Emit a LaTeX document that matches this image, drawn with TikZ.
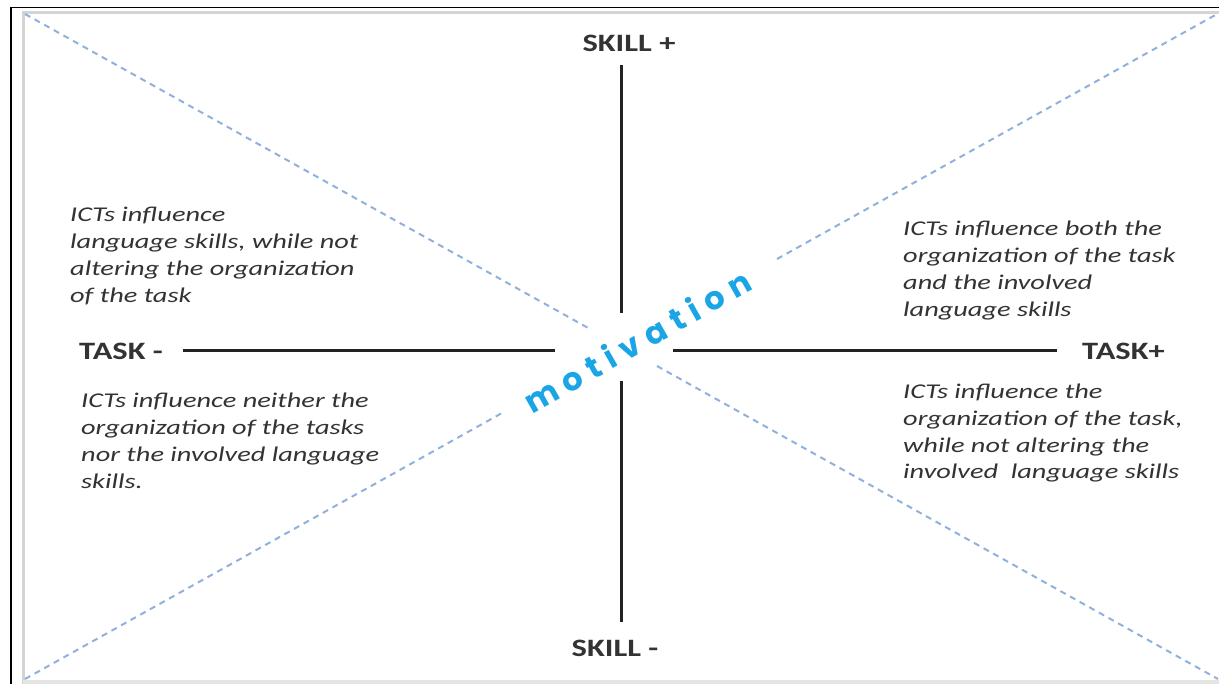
\documentclass[tikz,border=0pt]{standalone}
\usepackage{fontspec}
\newfontfamily\bodyfont[FakeStretch=1.35]{Carlito}
\newfontfamily\labelfont[FakeStretch=1.3]{Carlito}
\newfontfamily\motfont{Poppins}
\definecolor{axisblack}{HTML}{222222}
\definecolor{textgrey}{HTML}{333333}
\definecolor{diagblue}{HTML}{8FB2DC}
\definecolor{motblue}{HTML}{1AA6E6}
\definecolor{framegrey}{HTML}{D4D4D4}
\tikzset{
  axisline/.style={draw=axisblack, line width=3pt},
  diagline/.style={draw=diagblue, line width=2pt, dash pattern=on 6pt off 5pt},
  axislabel/.style={inner sep=0pt, text=textgrey, font=\labelfont\bfseries\fontsize{25}{30}\selectfont},
  quadtext/.style={inner sep=0pt, align=left, anchor=base west, text=textgrey,
    font=\bodyfont\itshape\fontsize{21}{27}\selectfont},
  mottext/.style={inner sep=0pt, text=motblue, font=\motfont\bfseries\fontsize{32}{35}\selectfont}
}
\newcommand{\spacedword}{m\hspace{8pt}o\hspace{8pt}t\hspace{8pt}i\hspace{8pt}v\hspace{8pt}a\hspace{8pt}t\hspace{8pt}i\hspace{8pt}o\hspace{8pt}n}
\begin{document}
\begin{tikzpicture}[x=1pt, y=-1pt]
  \useasboundingbox (0,0) rectangle (1219,684);
  \fill[white] (0,0) rectangle (1219,684);

  % frame: inner grey panel edges and outer black rule
  \draw[framegrey, line width=3pt] (23.5,684) -- (23.5,13) -- (1219,13);
  \fill[framegrey!60] (23,680) rectangle (1219,684);
  \draw[black, line width=1.6pt] (11,684) -- (11,7.5) -- (1219,7.5);

  % corners of the panel and the central gaps
  \coordinate (tl) at (25,14);
  \coordinate (tr) at (1219,13);
  \coordinate (bl) at (25,679);
  \coordinate (br) at (1218,679);
  \coordinate (dtlEnd) at (590,329);
  \coordinate (dbrStart) at (657,366);
  \coordinate (dblEnd) at (502,413);
  \coordinate (dtrStart) at (777,259);

  % dashed diagonals
  \draw[diagline] (tl) -- (dtlEnd);
  \draw[diagline] (dbrStart) -- (br);
  \draw[diagline] (bl) -- (dblEnd);
  \draw[diagline] (dtrStart) -- (tr);

  % axes
  \coordinate (vTop) at (621.5,65);
  \coordinate (vTopEnd) at (621.5,313);
  \coordinate (vBotStart) at (621.5,381);
  \coordinate (vBot) at (621.5,622);
  \coordinate (hLeft) at (183,351);
  \coordinate (hLeftEnd) at (555,351);
  \coordinate (hRightStart) at (673,351);
  \coordinate (hRight) at (1057,351);
  \draw[axisline] (vTop) -- (vTopEnd);
  \draw[axisline] (vBotStart) -- (vBot);
  \draw[axisline] (hLeft) -- (hLeftEnd);
  \draw[axisline] (hRightStart) -- (hRight);

  % axis labels
  \node[axislabel, anchor=base] (skillplus) at (629,52) {SKILL +};
  \node[axislabel, anchor=base] (skillminus) at (615,656) {SKILL -};
  \node[axislabel, anchor=base west] (taskminus) at (79,360) {TASK -};
  \node[axislabel, anchor=base west] (taskplus) at (1082,360) {TASK+};

  % centre word
  \node[mottext, rotate=29.5] (motivation) at (637,341) {\spacedword};

  % quadrant descriptions (anchored at the baseline of their last line)
  \node[quadtext] (qtl) at (70,303) {ICTs influence\\language skills, while not\\altering the organization\\of the task};
  \node[quadtext] (qtr) at (903,317) {ICTs influence both the\\organization of the task\\and the involved\\language skills};
  \node[quadtext] (qbl) at (81,489) {ICTs influence neither the\\organization of the tasks\\nor the involved language\\skills.};
  \node[quadtext] (qbr) at (903,479) {ICTs influence the\\organization of the task,\\while not altering the\\involved\ \ language skills};
\end{tikzpicture}
\end{document}
